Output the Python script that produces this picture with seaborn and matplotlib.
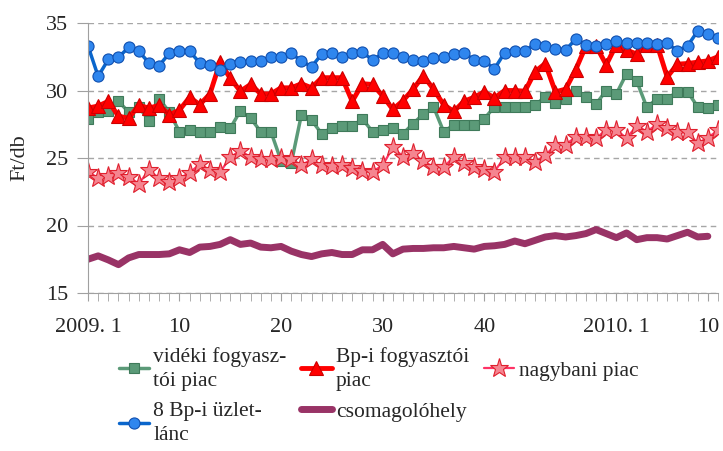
import numpy as np
import pandas as pd
import matplotlib
matplotlib.use('Agg')
import matplotlib.pyplot as plt
from matplotlib.ticker import MultipleLocator
import seaborn as sns

# heti átlagárak, Ft/db (2009. 1. héttől 2010. 11. hétig)
videki = [27.9, 28.4, 28.5, 29.2, 28.4, 28.8, 27.75, 29.4, 28.4, 26.95,
          27.1, 26.95, 26.95, 27.3, 27.2, 28.5, 27.95, 26.95, 26.95, 24.8,
          24.6, 28.2, 27.8, 26.8, 27.25, 27.35, 27.35, 27.9, 26.95, 27.1,
          27.2, 26.8, 27.55, 28.25, 28.8, 26.95, 27.45, 27.45, 27.45, 27.9,
          28.8, 28.75, 28.75, 28.75, 28.9, 29.55, 29.1, 29.4, 29.95, 29.55,
          29.0, 30.0, 29.75, 31.25, 30.7, 28.75, 29.4, 29.4, 29.9, 29.9,
          28.8, 28.7, 28.9]
bp_fogy = [28.7, 28.85, 29.2, 28.1, 27.95, 28.9, 28.7, 28.9, 28.2, 28.55,
           29.5, 28.95, 29.75, 32.1, 30.9, 29.95, 30.45, 29.75, 29.75, 30.2,
           30.2, 30.5, 30.2, 30.95, 30.95, 30.95, 29.2, 30.5, 30.45, 29.6,
           28.6, 29.25, 30.1, 31.1, 30.1, 28.95, 28.45, 29.2, 29.5, 29.9,
           29.45, 30.0, 30.0, 29.95, 31.4, 32.0, 29.9, 30.1, 31.55, 33.3,
           33.3, 31.9, 33.4, 33.0, 32.7, 33.4, 33.4, 31.0, 31.95, 32.0,
           32.1, 32.2, 32.5]
nagybani = [24.0, 23.5, 23.7, 23.9, 23.6, 23.1, 24.1, 23.5, 23.2, 23.5,
            23.9, 24.55, 24.1, 23.95, 25.05, 25.55, 25.05, 24.9, 24.9, 25.0,
            24.95, 24.45, 24.9, 24.45, 24.4, 24.5, 24.25, 24.05, 24.0, 24.45,
            25.8, 25.1, 25.35, 24.75, 24.35, 24.3, 25.1, 24.6, 24.3, 24.2,
            24.0, 25.05, 25.05, 25.05, 24.7, 25.2, 25.95, 26.0, 26.55, 26.55,
            26.45, 27.1, 27.1, 26.45, 27.4, 26.95, 27.5, 27.25, 26.9, 26.9,
            26.1, 26.5, 27.05]
uzletlanc = [33.3, 31.05, 32.3, 32.45, 33.2, 32.9, 32.05, 31.85, 32.75, 32.9,
             32.9, 32.05, 31.9, 31.55, 32.0, 32.1, 32.15, 32.15, 32.5, 32.45,
             32.75, 32.2, 31.75, 32.7, 32.8, 32.5, 32.8, 32.85, 32.25, 32.75,
             32.75, 32.45, 32.25, 32.2, 32.4, 32.5, 32.7, 32.8, 32.25, 32.2,
             31.6, 32.8, 32.9, 32.95, 33.45, 33.3, 33.1, 33.0, 33.8, 33.4,
             33.3, 33.45, 33.65, 33.55, 33.55, 33.55, 33.45, 33.5, 32.95, 33.3,
             34.4, 34.15, 33.9]
csomagolo = [17.5, 17.75, 17.45, 17.1, 17.6, 17.85, 17.85, 17.85, 17.9, 18.2,
             18.0, 18.4, 18.45, 18.6, 18.95, 18.6, 18.7, 18.4, 18.35, 18.45,
             18.1, 17.85, 17.7, 17.9, 18.0, 17.85, 17.85, 18.2, 18.2, 18.6,
             17.9, 18.25, 18.3, 18.3, 18.35, 18.35, 18.45, 18.35, 18.25, 18.45,
             18.5, 18.6, 18.85, 18.65, 18.9, 19.15, 19.25, 19.15, 19.25, 19.4,
             19.7, 19.4, 19.1, 19.45, 18.95, 19.1, 19.1, 19.0, 19.25, 19.5,
             19.15, 19.2, np.nan]

tick_pos = [0, 9, 19, 29, 39, 52, 61]
tick_labels = ['2009. 1', '10', '20', '30', '40', '2010. 1', '10']

df = pd.DataFrame({'het': np.arange(len(videki)),
                   'vidéki fogyasz-\ntói piac': videki,
                   'Bp-i fogyasztói\npiac': bp_fogy,
                   'nagybani piac': nagybani,
                   '8 Bp-i üzlet-\nlánc': uzletlanc,
                   'csomagolóhely': csomagolo})

sns.set_style('white')
plt.rcParams['font.family'] = ['Liberation Serif', 'DejaVu Serif']

fig = plt.figure(figsize=(7.23, 4.51), dpi=100)
ax = fig.add_axes([88 / 723, 1 - 293 / 451, 630 / 723, 270 / 451])

styles = {
    'vidéki fogyasz-\ntói piac': dict(color='#5b9a78', lw=2.5, marker='s', ms=7.5,
                                      mfc='#5b9a78', mec='#3f7a5a', mew=0.8),
    'Bp-i fogyasztói\npiac': dict(color='#ff0000', lw=3.5, marker='^', ms=10,
                                  mfc='#ff0000', mec='#cc0000', mew=0.8),
    'nagybani piac': dict(color='#ff3366', lw=1.6, marker='*', ms=14,
                          mfc='#f58590', mec='#e0202e', mew=0.8),
    '8 Bp-i üzlet-\nlánc': dict(color='#0a66cc', lw=2.5, marker='o', ms=8,
                                mfc='#2f86ee', mec='#1050b0', mew=0.8),
    'csomagolóhely': dict(color='#993366', lw=5),
}
for name, st in styles.items():
    sns.lineplot(data=df, x='het', y=name, ax=ax, label=name, legend=False, **st)

ax.set_xlim(0, len(videki) - 1)
ax.set_ylim(15, 35)
ax.set_yticks([15, 20, 25, 30, 35])
ax.yaxis.grid(True, linestyle=(0, (4, 3)), color='#a6a6a6', lw=1)
ax.xaxis.grid(False)
for s in ['top', 'right']:
    ax.spines[s].set_visible(False)
for s in ['left', 'bottom']:
    ax.spines[s].set_color('#a0a0a0')
ax.set_xticks(tick_pos)
ax.set_xticklabels(tick_labels)
ax.xaxis.set_minor_locator(MultipleLocator(1))
ax.tick_params(axis='x', which='both', direction='out', length=6, color='#a0a0a0',
               pad=12, labelsize=16, bottom=True)
ax.tick_params(axis='y', direction='out', length=8, color='#a0a0a0', pad=6,
               labelsize=16, left=True)
ax.set_xlabel('')
ax.set_ylabel('Ft/db', fontsize=16, labelpad=12)

handles, labels = ax.get_legend_handles_labels()
order = [0, 3, 1, 4, 2]
leg = fig.legend([handles[i] for i in order], [labels[i] for i in order],
                 loc='upper left', bbox_to_anchor=(110 / 723, 1 - 338 / 451), ncol=3,
                 frameon=False, fontsize=15.5, handlelength=1.4, handletextpad=0.2,
                 columnspacing=0.7, labelspacing=0.5, borderaxespad=0)
for t in leg.get_texts():
    t.set_linespacing(1.4)

fig.savefig('out.png', dpi=100)
